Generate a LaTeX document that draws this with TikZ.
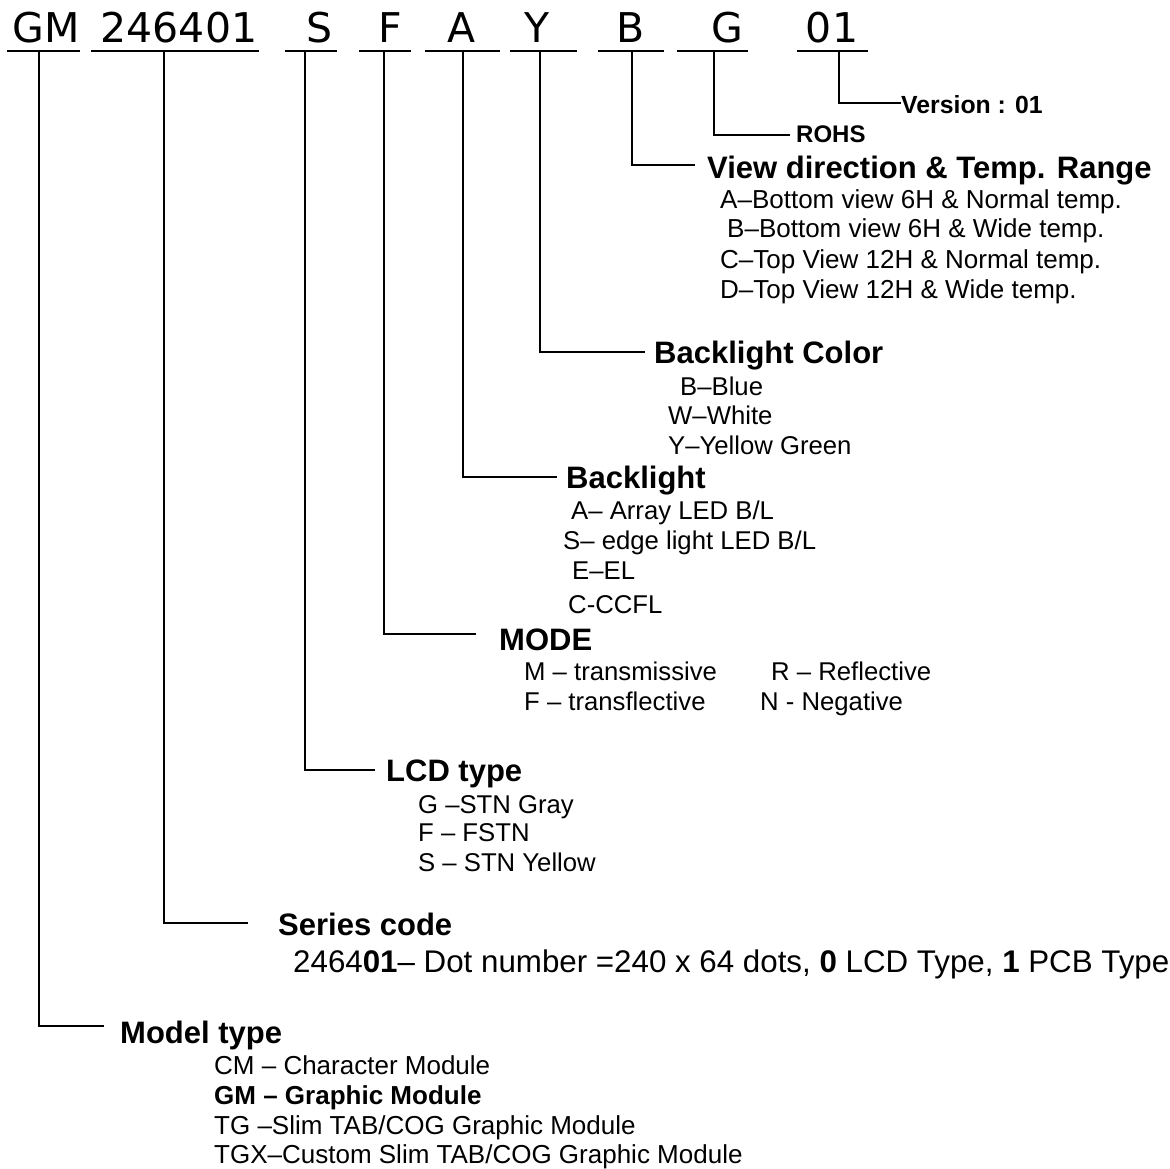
\documentclass[tikz,border=0pt]{standalone}
\usepackage{fontspec}
\setmainfont{Liberation Sans}
\newfontfamily\codefont{DejaVu Sans}
\begin{document}
\begin{tikzpicture}[x=1pt,y=-1pt,
  code/.style={anchor=base,inner sep=0pt,font=\codefont\fontsize{41}{45}\selectfont},
  uline/.style={line width=2.6pt},
  conn/.style={line width=1.5pt},
  head/.style={anchor=base west,inner sep=0pt,font=\bfseries\fontsize{31}{34}\selectfont},
  item/.style={anchor=base west,inner sep=0pt,font=\fontsize{25.7}{28}\selectfont},
  bigitem/.style={anchor=base west,inner sep=0pt,font=\fontsize{26}{28}\selectfont},
  small/.style={anchor=base west,inner sep=0pt,font=\bfseries\fontsize{24.8}{28}\selectfont}]
\useasboundingbox (0,0) rectangle (1170,1169);
\fill[white] (0,0) rectangle (1170,1169);

% code letters
\node[code] (cGM) at (46,43) {GM};
\node[code] (c246) at (179,43) {246401};
\node[code] (cS) at (320,43) {S};
\node[code] (cF) at (390,43) {F};
\node[code] (cA) at (462,43) {A};
\node[code] (cY) at (537,43) {Y};
\node[code] (cB) at (631,43) {B};
\node[code] (cG) at (727,43) {G};
\node[code] (c01) at (832,43) {01};

% underlines
\draw[uline] (7,51) -- (80,51);
\draw[uline] (91,51) -- (259,51);
\draw[uline] (285,51) -- (337,51);
\draw[uline] (359,51) -- (411,51);
\draw[uline] (425,51) -- (500,51);
\draw[uline] (510,51) -- (577,51);
\draw[uline] (598,51) -- (664,51);
\draw[uline] (677,51) -- (748,51);
\draw[uline] (797,51) -- (868,51);

% connector start/end points
\coordinate (sGM) at (39,51);   \coordinate (eGM) at (104,1026);
\coordinate (s246) at (164,51); \coordinate (e246) at (248,923);
\coordinate (sS) at (305,51);   \coordinate (eS) at (375,770);
\coordinate (sF) at (384,51);   \coordinate (eF) at (476,634);
\coordinate (sA) at (463,51);   \coordinate (eA) at (557,477);
\coordinate (sY) at (540,51);   \coordinate (eY) at (645,352);
\coordinate (sB) at (632,51);   \coordinate (eB) at (695,165);
\coordinate (sG) at (714,51);   \coordinate (eG) at (790,135);
\coordinate (s01) at (839,51);  \coordinate (e01) at (901,103);

\draw[conn] (sGM) |- (eGM);
\draw[conn] (s246) |- (e246);
\draw[conn] (sS) |- (eS);
\draw[conn] (sF) |- (eF);
\draw[conn] (sA) |- (eA);
\draw[conn] (sY) |- (eY);
\draw[conn] (sB) |- (eB);
\draw[conn] (sG) |- (eG);
\draw[conn] (s01) |- (e01);

% Version / ROHS
\node[small] (hVer) at (901,114) {Version : 01};
\node[small,font=\bfseries\fontsize{24}{26}\selectfont] (hRohs) at (796,143) {ROHS};

% View direction
\node[head] (hView) at (707,179) {View direction \& Temp. Range};
\node[bigitem] (v1) at (720,209) {A–Bottom view 6H \& Normal temp.};
\node[bigitem] (v2) at (727,238) {B–Bottom view 6H \& Wide temp.};
\node[bigitem] (v3) at (720,269) {C–Top View 12H \& Normal temp.};
\node[bigitem] (v4) at (720,298) {D–Top View 12H \& Wide temp.};

% Backlight color
\node[head] (hBLC) at (654,363) {Backlight Color};
\node[item] (bc1) at (680,395) {B–Blue};
\node[item] (bc2) at (668,424) {W–White};
\node[item] (bc3) at (668,454) {Y–Yellow Green};

% Backlight
\node[head] (hBL) at (566,488) {Backlight};
\node[item] (b1) at (571,519) {A– Array LED B/L};
\node[item] (b2) at (563,549) {S– edge light LED B/L};
\node[item] (b3) at (572,579) {E–EL};
\node[item] (b4) at (568,613) {C-CCFL};

% Mode
\node[head] (hMode) at (499,650) {MODE};
\node[item] (m1) at (524,680) {M – transmissive};
\node[item] (m2) at (771,680) {R – Reflective};
\node[item] (m3) at (524,710) {F – transflective};
\node[item] (m4) at (760,710) {N - Negative};

% LCD type
\node[head] (hLCD) at (386,781) {LCD type};
\node[item] (l1) at (418,813) {G –STN Gray};
\node[item] (l2) at (418,841) {F – FSTN};
\node[item] (l3) at (418,871) {S – STN Yellow};

% Series code
\node[head] (hSer) at (278,935) {Series code};
\node[item,font=\fontsize{31.3}{34}\selectfont] (s1) at (293,972) {2464\textbf{01}– Dot number =240 x 64 dots, \textbf{0} LCD Type, \textbf{1} PCB Type};

% Model type
\node[head] (hMod) at (120,1043) {Model type};
\node[bigitem] (mt1) at (214,1074) {CM – Character Module};
\node[bigitem,font=\bfseries\fontsize{26}{28}\selectfont] (mt2) at (214,1104) {GM – Graphic Module};
\node[bigitem] (mt3) at (214,1134) {TG –Slim TAB/COG Graphic Module};
\node[bigitem] (mt4) at (214,1163) {TGX–Custom Slim TAB/COG Graphic Module};
\end{tikzpicture}
\end{document}
